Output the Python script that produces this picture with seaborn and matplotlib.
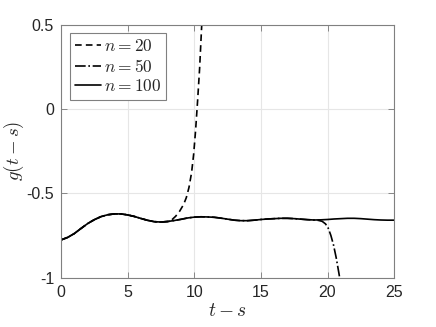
import numpy as np
import pandas as pd
import matplotlib
matplotlib.use("Agg")
import matplotlib.pyplot as plt
import seaborn as sns

# n = 100 (solid)
t100 = [0, 0.5, 1.0, 1.5, 2.0, 2.5, 3.0, 3.5, 4.0, 4.5, 5.0, 5.5, 6.0, 6.5, 7.0, 7.5,
        8.0, 8.5, 9.0, 9.5, 10.0, 10.5, 11.0, 11.5, 12.0, 12.5, 13.0, 13.5, 14.0, 14.5,
        15.0, 15.5, 16.0, 16.5, 17.0, 17.5, 18.0, 18.5, 19.0, 19.5, 20.0, 20.5, 21.0,
        21.5, 22.0, 22.5, 23.0, 23.5, 24.0, 24.5, 25.0]
g100 = [-0.775, -0.760, -0.737, -0.707, -0.678, -0.655, -0.637, -0.626, -0.621, -0.621,
        -0.627, -0.636, -0.648, -0.659, -0.667, -0.669, -0.666, -0.660, -0.653, -0.645,
        -0.640, -0.638, -0.639, -0.641, -0.646, -0.652, -0.658, -0.661, -0.661, -0.658,
        -0.654, -0.651, -0.649, -0.647, -0.647, -0.649, -0.652, -0.655, -0.657, -0.656,
        -0.654, -0.651, -0.649, -0.647, -0.647, -0.649, -0.652, -0.655, -0.657, -0.658,
        -0.658]

# n = 20 (dashed) blows up upward near t = 10
t20 = t100[:17] + [8.3, 8.6, 8.9, 9.2, 9.4, 9.6, 9.8, 9.95, 10.1, 10.25, 10.4, 10.56, 10.65]
g20 = g100[:17] + [-0.657, -0.635, -0.605, -0.565, -0.525, -0.465, -0.375, -0.270,
                   -0.125, 0.05, 0.24, 0.50, 0.65]

# n = 50 (dash-dot) blows up downward near t = 21
t50 = t100[:39] + [19.3, 19.6, 19.85, 20.05, 20.25, 20.45, 20.65, 20.85, 21.0, 21.1]
g50 = g100[:39] + [-0.659, -0.665, -0.680, -0.705, -0.748, -0.805, -0.880, -0.970,
                   -1.04, -1.10]

xticks = [0, 5, 10, 15, 20, 25]
yticks = [-1, -0.5, 0, 0.5]
ytick_labels = ["-1", "-0.5", "0", "0.5"]

sns.set_style("ticks")
plt.rcParams["font.family"] = ["Liberation Sans", "DejaVu Sans"]
plt.rcParams["mathtext.fontset"] = "cm"
plt.rcParams["axes.unicode_minus"] = False

fig = plt.figure(figsize=(4.36, 3.27), dpi=100)
ax = fig.add_axes([0.140, 0.150, 0.764, 0.775])

series = [
    (t20, g20, (0, (4, 2.5)), r"$n=20$"),
    (t50, g50, "-.", r"$n=50$"),
    (t100, g100, "-", r"$n=100$"),
]
for t, g, ls, lab in series:
    df = pd.DataFrame({"t": t, "g": g})
    sns.lineplot(data=df, x="t", y="g", ax=ax, color="black", linestyle=ls,
                 linewidth=1.2, label=lab, sort=False, estimator=None)

ax.set_xlim(0, 25)
ax.set_ylim(-1, 0.5)
ax.set_xticks(xticks)
ax.set_xticklabels([str(v) for v in xticks])
ax.set_yticks(yticks)
ax.set_yticklabels(ytick_labels)
ax.grid(True, color="#e6e6e6", linewidth=0.8)
ax.set_axisbelow(True)
ax.tick_params(direction="in", top=True, right=True, length=4, width=0.6,
               color="#777777", labelsize=11.5, labelcolor="#262626", pad=5)
for s in ax.spines.values():
    s.set_color("#808080")
    s.set_linewidth(0.8)

ax.set_xlabel(r"$t-s$", fontsize=14, labelpad=2)
ax.set_ylabel(r"$g(t-s)$", fontsize=13.5, labelpad=0)

leg = ax.legend(loc="upper left", fontsize=12.5, handlelength=1.5, handletextpad=0.15,
                borderpad=0.3, labelspacing=0.2, fancybox=False, framealpha=1,
                borderaxespad=0.5)
leg.get_frame().set_edgecolor("#808080")
leg.get_frame().set_linewidth(0.8)

fig.savefig("out.png", dpi=100)
